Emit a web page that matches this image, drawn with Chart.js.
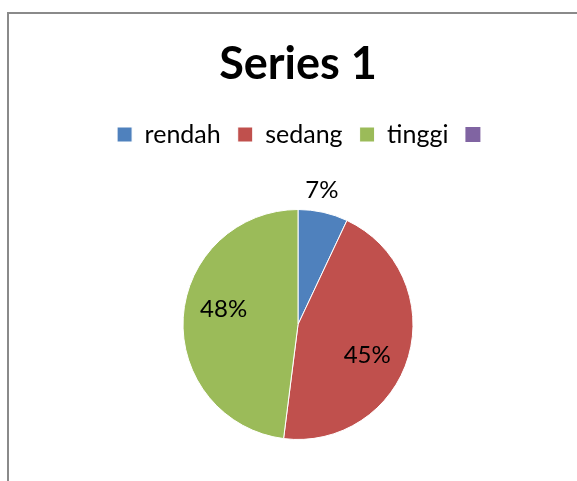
<!DOCTYPE html>
<html>
<head>
<meta charset="utf-8">
<script src="https://cdn.jsdelivr.net/npm/chart.js@4.4.0/dist/chart.umd.min.js"></script>
<style>
  html, body { margin: 0; padding: 0; background: #fff; overflow: hidden; }
  #frame {
    position: absolute; left: 7px; top: 12px; width: 600px; height: 500px;
    border-left: 2px solid #8a8a8a; border-top: 2px solid #8a8a8a;
  }
  #wrap { position: absolute; left: 0; top: 0; width: 577px; height: 520px; }
</style>
</head>
<body>
<div id="frame"></div>
<div id="wrap"><canvas id="pie"></canvas></div>
<script>
  // data
  const categories = ["rendah", "sedang", "tinggi", ""];
  const values = [7, 45, 48, 0];
  const colors = ["#4F81BD", "#C0504D", "#9BBB59", "#8064A2"];

  const FONT = "Lato, 'Open Sans', sans-serif";

  // percentage labels: small slices go outside, others inside (nudged like excel's best fit)
  const sliceLabels = {
    id: "sliceLabels",
    afterDatasetsDraw(chart) {
      const ctx = chart.ctx;
      const meta = chart.getDatasetMeta(0);
      const data = chart.data.datasets[0].data;
      const total = data.reduce((a, b) => a + (b || 0), 0);
      ctx.save();
      ctx.font = "24px " + FONT;
      ctx.fillStyle = "#000";
      ctx.textAlign = "center";
      ctx.textBaseline = "middle";
      meta.data.forEach((arc, i) => {
        const v = data[i];
        if (!v) return;
        const p = arc.getProps(["x", "y", "startAngle", "endAngle", "outerRadius"], true);
        const share = v / total;
        const outside = share < 0.1;
        const mid = (p.startAngle + p.endAngle) / 2 + (outside ? -0.044 : 0.14);
        const r = outside ? p.outerRadius + 21 : p.outerRadius * 0.66;
        ctx.fillText(Math.round(share * 100) + "%", p.x + Math.cos(mid) * r, p.y + Math.sin(mid) * r);
      });
      ctx.restore();
    }
  };

  // the legend row sits a bit right of centre in the original
  const legendNudge = {
    id: "legendNudge",
    afterLayout(chart) {
      if (!chart.legend) return;
      chart.legend.left += 7;
      chart.legend.right += 7;
    }
  };

  new Chart(document.getElementById("pie"), {
    type: "pie",
    data: {
      labels: categories,
      datasets: [{
        data: values,
        backgroundColor: colors,
        borderColor: "#fff",
        borderWidth: [1, 1, 1, 0],
      }],
    },
    options: {
      responsive: true,
      maintainAspectRatio: false,
      animation: false,
      radius: 115,
      layout: { padding: { left: 19, bottom: 28 } },
      plugins: {
        title: {
          display: true,
          text: "Series 1",
          color: "#000",
          font: { family: FONT, size: 45, weight: "bold" },
          padding: { top: 37, bottom: 14 },
        },
        legend: {
          position: "top",
          labels: {
            color: "#000",
            font: { family: FONT, size: 25 },
            boxWidth: 15,
            boxHeight: 15,
            padding: 17,
          },
        },
        tooltip: { enabled: false },
      },
    },
    plugins: [sliceLabels, legendNudge],
  });
</script>
</body>
</html>
